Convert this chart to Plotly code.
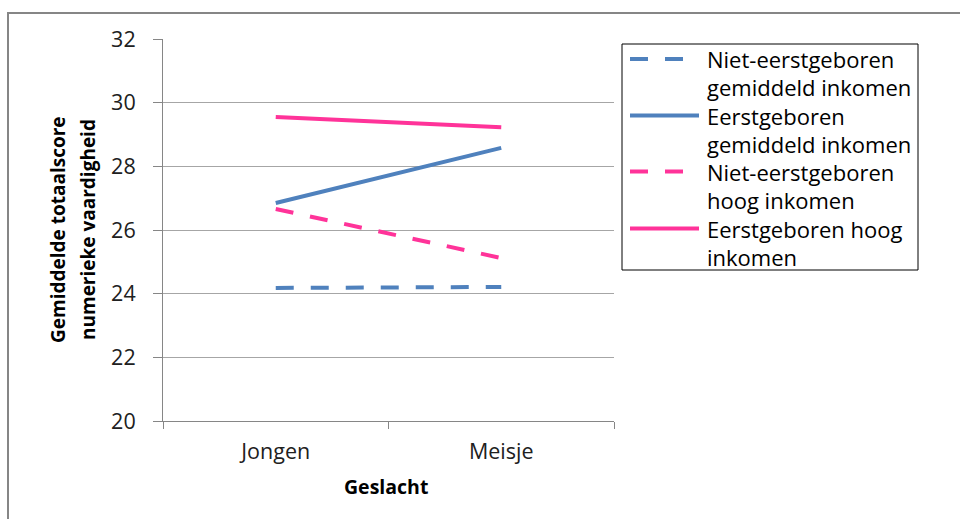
import plotly.graph_objects as go

# Mean total score for numerical ability by gender, birth order and income
geslacht = ["Jongen", "Meisje"]
series_names = [
    "Niet-eerstgeboren gemiddeld inkomen",
    "Eerstgeboren gemiddeld inkomen",
    "Niet-eerstgeboren hoog inkomen",
    "Eerstgeboren hoog inkomen",
]
niet_eerst_gemiddeld = [24.18, 24.21]
eerst_gemiddeld = [26.85, 28.58]
niet_eerst_hoog = [26.66, 25.12]
eerst_hoog = [29.55, 29.23]

legend_lines = [
    ["Niet-eerstgeboren", "gemiddeld inkomen"],
    ["Eerstgeboren", "gemiddeld inkomen"],
    ["Niet-eerstgeboren", "hoog inkomen"],
    ["Eerstgeboren hoog", "inkomen"],
]
y_ticks = [20, 22, 24, 26, 28, 30, 32]

BLUE = "#4F81BD"
PINK = "#FF3399"
FONT = "Open Sans"

styles = [
    dict(color=BLUE, dash="18px,17px"),
    dict(color=BLUE, dash="solid"),
    dict(color=PINK, dash="18px,17px"),
    dict(color=PINK, dash="solid"),
]
values = [niet_eerst_gemiddeld, eerst_gemiddeld, niet_eerst_hoog, eerst_hoog]

fig = go.Figure()
for name, vals, st in zip(series_names, values, styles):
    fig.add_trace(go.Scatter(
        x=geslacht, y=vals, name=name, mode="lines",
        line=dict(color=st["color"], dash=st["dash"], width=4),
        showlegend=False, hoverinfo="x+y+name",
    ))

# plot area in pixels: x 163..614, y 39..421
L, R, T, B = 163, 614, 39, 421
W, H = R - L, B - T


def px(x):
    return (x - L) / W


def py(y):
    return (B - y) / H


shapes = []
annotations = []

# outer chart frame (right and bottom edges lie beyond the page)
shapes.append(dict(type="rect", xref="paper", yref="paper",
                   x0=px(8), x1=px(1200), y0=py(700), y1=py(13),
                   line=dict(color="#868686", width=2), layer="below"))

# legend box
shapes.append(dict(type="rect", xref="paper", yref="paper",
                   x0=px(622), x1=px(918), y0=py(270), y1=py(44),
                   line=dict(color="#000000", width=1), fillcolor="white"))

row_y = [59, 115.5, 171.5, 228.5]
for i, (lines, st) in enumerate(zip(legend_lines, styles)):
    y0 = row_y[i]
    shapes.append(dict(type="line", xref="paper", yref="paper",
                       x0=px(630), x1=px(699), y0=py(y0), y1=py(y0),
                       line=dict(color=st["color"], width=4, dash=st["dash"])))
    for j, txt in enumerate(lines):
        annotations.append(dict(
            xref="paper", yref="paper", x=px(705), y=py(y0 + j * 28),
            text=txt, showarrow=False, xanchor="left", yanchor="middle",
            font=dict(family=FONT, size=22, color="#000000"),
        ))

# y-axis title on two lines
for txt, x in [("Gemiddelde totaalscore", 58), ("numerieke vaardigheid", 88)]:
    annotations.append(dict(
        xref="paper", yref="paper", x=px(x), y=py(230), text="<b>" + txt + "</b>",
        showarrow=False, textangle=-90, xanchor="center", yanchor="middle",
        font=dict(family=FONT, size=19, color="#000000"),
    ))

# x-axis title
annotations.append(dict(
    xref="paper", yref="paper", x=px(386), y=py(487), text="<b>Geslacht</b>",
    showarrow=False, xanchor="center", yanchor="middle",
    font=dict(family=FONT, size=19.5, color="#000000"),
))

fig.update_layout(
    width=960, height=519,
    margin=dict(l=L, r=960 - R, t=T, b=519 - B, pad=0),
    paper_bgcolor="white", plot_bgcolor="white",
    shapes=shapes, annotations=annotations,
    font=dict(family=FONT, size=21, color="#202020"),
)
fig.update_xaxes(
    type="category", range=[-0.5, 1.5], showgrid=False,
    showline=True, linecolor="#868686", linewidth=1,
    ticks="outside", ticklen=7, tickcolor="#868686",
    tickson="boundaries", ticklabelstandoff=11,
    tickfont=dict(family=FONT, size=21.5, color="#202020"),
    zeroline=False, fixedrange=True,
)
fig.update_yaxes(
    range=[20, 32], tickvals=y_ticks, showgrid=True, gridcolor="#A6A6A6",
    gridwidth=1, showline=True, linecolor="#868686", linewidth=1,
    ticks="outside", ticklen=9, tickcolor="#868686", ticklabelstandoff=13,
    tickfont=dict(family=FONT, size=21.5, color="#202020"),
    zeroline=False, fixedrange=True,
)

fig.write_html("out.html")
